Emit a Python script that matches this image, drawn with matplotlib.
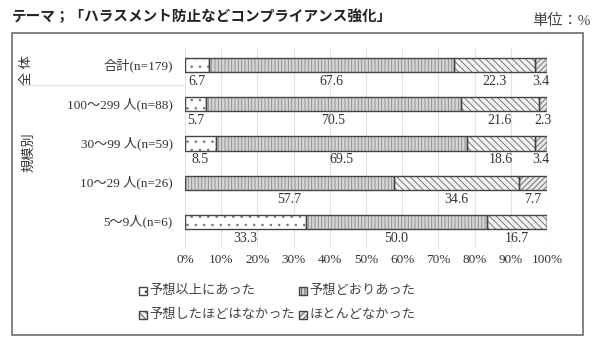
import matplotlib
matplotlib.use("Agg")
import matplotlib.pyplot as plt
from matplotlib.patches import Rectangle
from matplotlib.lines import Line2D
import numpy as np

plt.rcParams['font.family'] = ['Liberation Serif', 'Noto Sans CJK JP', 'DejaVu Sans']
plt.rcParams['hatch.linewidth'] = 0.6

# data
rows = ['合計(n=179)', '100〜299 人(n=88)', '30〜99 人(n=59)', '10〜29 人(n=26)', '5〜9人(n=6)']
above = [6.7, 5.7, 8.5, 0.0, 33.3]
asexpected = [67.6, 70.5, 69.5, 57.7, 50.0]
notso = [22.3, 21.6, 18.6, 34.6, 16.7]
hardly = [3.4, 2.3, 3.4, 7.7, 0.0]
series_names = ['予想以上にあった', '予想どおりあった', '予想したほどはなかった', 'ほとんどなかった']
xticks = [0, 10, 20, 30, 40, 50, 60, 70, 80, 90, 100]

series = [above, asexpected, notso, hardly]
fills = ['white', '#d4d4d4', '#f2f2f2', '#e6e6e6']
hatches = ['..', '|||||', '\\\\\\\\\\', '//////']
hatch_cols = ['#777777', '#8a8a8a', '#666666', '#666666']

W, H = 600, 348
fig = plt.figure(figsize=(6, 3.48), dpi=100)

def fx(x):
    return x / W

def fy(y):
    return 1 - y / H

# outer frame
fig.patches.append(Rectangle((fx(12), fy(335)), fx(583) - fx(12), fy(33) - fy(335),
                             transform=fig.transFigure, fill=False, edgecolor='#777777', lw=1.3))
fig.lines.append(Line2D([fx(20), fx(183)], [fy(85), fy(85)], transform=fig.transFigure,
                        color='#e4e4e4', lw=1))

fig.text(fx(12), fy(17), 'テーマ；「ハラスメント防止などコンプライアンス強化」', fontsize=10.5,
         fontweight='bold', va='center', ha='left', color='#222222')
fig.text(fx(591), fy(21), '単位：%', fontsize=11, va='center', ha='right', color='#444444')

ax_top, ax_bot = 48, 248
ax = fig.add_axes([fx(185), fy(ax_bot), fx(547) - fx(185), (ax_bot - ax_top) / H])
ypos = np.arange(len(rows))
bh = 0.36

left = np.zeros(len(rows))
for vals, fc, ht, hc in zip(series, fills, hatches, hatch_cols):
    vals = np.array(vals)
    ax.barh(ypos, vals, left=left, height=bh, color=fc, hatch=ht, edgecolor=hc, lw=0, zorder=2)
    ax.barh(ypos, vals, left=left, height=bh, fill=False, edgecolor='#444444', lw=1.0, zorder=3)
    for i, v in enumerate(vals):
        if v > 0:
            ax.text(left[i] + v / 2, ypos[i] + 0.42, f'{v:.1f}', ha='center', va='center',
                    fontsize=10, color='#333333')
    left += vals

ax.set_xlim(0, 100)
ax.set_ylim(4.66, -0.43)
ax.set_xticks(xticks)
ax.set_xticklabels([f'{t}%' for t in xticks], fontsize=9.5, color='#333333')
ax.set_yticks([])
ax.tick_params(axis='x', length=0, pad=4)
ax.grid(axis='x', color='#e2e2e2', lw=0.8, zorder=0)
for s in ax.spines.values():
    s.set_visible(False)

# row labels
for i, r in enumerate(rows):
    fig.text(fx(173), fy(65 + 39.2 * i), r, ha='right', va='center', fontsize=9.5, color='#333333')

fig.text(fx(27), fy(70), '全 体', rotation=90, ha='center', va='center', fontsize=9.5, color='#333333')
fig.text(fx(29), fy(152), '規模別', rotation=90, ha='center', va='center', fontsize=9.5, color='#333333')

# legend
leg_pos = [(143, 291), (303, 291), (143, 315), (303, 315)]
for (lx, ly), name, fc, ht, hc in zip(leg_pos, series_names, fills, hatches, hatch_cols):
    fig.patches.append(Rectangle((fx(lx - 4), fy(ly + 4)), 8 / W, 8 / H, transform=fig.transFigure,
                                 facecolor=fc, hatch=ht, edgecolor='#444444', lw=1.0))
    fig.text(fx(lx + 6), fy(ly), name, ha='left', va='center', fontsize=9.5, color='#444444')

fig.savefig('out.png', dpi=100)
